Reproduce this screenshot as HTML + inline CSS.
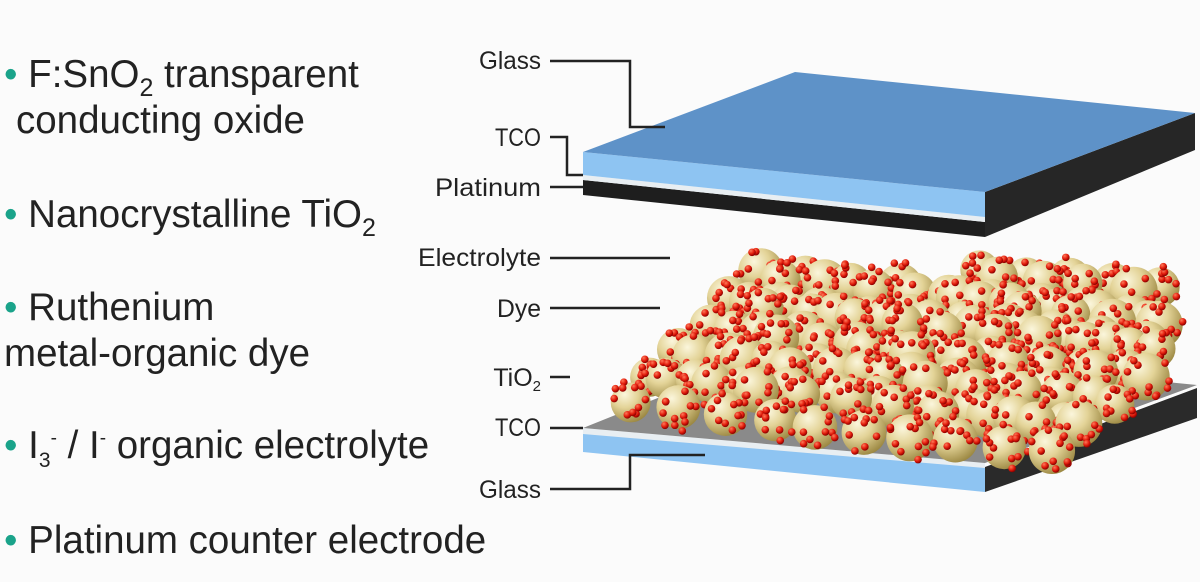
<!DOCTYPE html>
<html><head><meta charset="utf-8"><style>
body{margin:0;background:#fbfbfb;width:1200px;height:577px;overflow:hidden;font-family:"Liberation Sans",sans-serif}
</style></head><body>
<svg id="s" width="1200" height="577" viewBox="0 0 1200 577" xmlns="http://www.w3.org/2000/svg">
<defs>
<radialGradient id="g" cx="0.35" cy="0.3" r="0.75">
<stop offset="0" stop-color="#fbf6dc"/><stop offset="0.45" stop-color="#e3d397"/><stop offset="1" stop-color="#9a8640"/>
</radialGradient>
<radialGradient id="r" cx="0.35" cy="0.3" r="0.7">
<stop offset="0" stop-color="#ff7a5a"/><stop offset="0.6" stop-color="#e01a0a"/><stop offset="1" stop-color="#8a0000"/>
</radialGradient>
</defs>
<g font-size="38.5" fill="#222">
<text x="4" y="87"><tspan fill="#1aa38a">•</tspan> F:SnO<tspan font-size="25" dy="9">2</tspan><tspan dy="-9"> transparent</tspan></text>
<text x="16" y="133">conducting oxide</text>
<text x="4" y="227"><tspan fill="#1aa38a">•</tspan> Nanocrystalline TiO<tspan font-size="25" dy="9">2</tspan></text>
<text x="4" y="320"><tspan fill="#1aa38a">•</tspan> Ruthenium</text>
<text x="4" y="366">metal-organic dye</text>
<text x="4" y="458"><tspan fill="#1aa38a">•</tspan> I<tspan font-size="21" dy="9">3</tspan><tspan font-size="19" dy="-23">-</tspan><tspan dy="14"> / I</tspan><tspan font-size="19" dy="-14">-</tspan><tspan dy="14"> organic electrolyte</tspan></text>
<text x="4" y="553"><tspan fill="#1aa38a">•</tspan> Platinum counter electrode</text>
</g>
<!-- top plate -->
<polygon points="985,192 1195,113 1195,150 985,237" fill="#262626"/>
<polygon points="583,180 985,222 985,237 583,195" fill="#1e1e1e"/>
<polygon points="583,175 985,217 985,222 583,180" fill="#e8eef2"/>
<polygon points="583,152 985,192 985,217 583,175" fill="#8ec4f2"/>
<polygon points="583,152 795,72 1195,113 985,192" fill="#5e92c8"/>
<!-- bottom plate -->
<polygon points="985,467 1197,388 1197,418 985,492" fill="#2a2a2a"/>
<polygon points="583,432 985,467 985,492 583,452" fill="#8ec4f2"/>
<polygon points="583,428 985,463 985,468 583,434" fill="#e8eef2"/>
<polygon points="583,428 790,345 1197,385 985,463" fill="#8a8a8a"/>
<g id="balls"></g>
<!-- labels -->
<g font-size="25" fill="#222" text-anchor="end" font-family="'Liberation Sans Narrow','Liberation Sans',sans-serif">
<text x="541" y="69" textLength="62" lengthAdjust="spacingAndGlyphs">Glass</text>
<text x="541" y="146" textLength="46" lengthAdjust="spacingAndGlyphs">TCO</text>
<text x="541" y="196" textLength="106" lengthAdjust="spacingAndGlyphs">Platinum</text>
<text x="541" y="266" textLength="123" lengthAdjust="spacingAndGlyphs">Electrolyte</text>
<text x="541" y="317" textLength="44" lengthAdjust="spacingAndGlyphs">Dye</text>
<text x="541" y="386">TiO<tspan font-size="15" dy="5">2</tspan></text>
<text x="541" y="436" textLength="46" lengthAdjust="spacingAndGlyphs">TCO</text>
<text x="541" y="498" textLength="62" lengthAdjust="spacingAndGlyphs">Glass</text>
</g>
<g stroke="#222" stroke-width="2.5" fill="none">
<polyline points="550,61 630,61 630,127 665,127"/>
<polyline points="550,137 567,137 567,175 583,175"/>
<polyline points="550,187 583,187"/>
<polyline points="550,258 670,258"/>
<polyline points="550,308 660,308"/>
<polyline points="550,377 570,377"/>
<polyline points="550,428 583,428"/>
<polyline points="550,489 630,489 630,455 705,455"/>
</g>
</svg>
<script>
var seed=7;function rnd(){seed=(seed*9301+49297)%233280;return seed/233280;}
var g=document.getElementById('balls'),ns='http://www.w3.org/2000/svg',out=[];
function front(x){return 428+(x-583)*35/402;}
for(var layer=0;layer<3;layer++){
for(var i=0;i<8;i++){for(var j=0;j<10;j++){
var x=790+j*46-i*32+layer*16+rnd()*8, y=282+j*5+i*24-layer*30+rnd()*6;
var r=19+rnd()*5;
if(x+r>1195||x-r<600)continue; if(layer==0&&y<300)continue; if(layer==1&&i>5)continue; if(layer==2&&i>3)continue;
if(y+r>front(x)+6)continue;
if(y-r<248)continue;
out.push([x,y,r]);}}}
out.sort(function(a,b){return a[1]-b[1];});
out.forEach(function(b){
var c=document.createElementNS(ns,'circle');c.setAttribute('cx',b[0]);c.setAttribute('cy',b[1]);c.setAttribute('r',b[2]);c.setAttribute('fill','url(#g)');g.appendChild(c);
for(var k=0;k<12;k++){var a=rnd()*6.28,d=b[2]*(0.4+rnd()*0.7);
var d2=document.createElementNS(ns,'circle');d2.setAttribute('cx',b[0]+Math.cos(a)*d);d2.setAttribute('cy',b[1]+Math.sin(a)*d);d2.setAttribute('r',3.8);d2.setAttribute('fill','url(#r)');g.appendChild(d2);}
});
</script>
</body></html>
